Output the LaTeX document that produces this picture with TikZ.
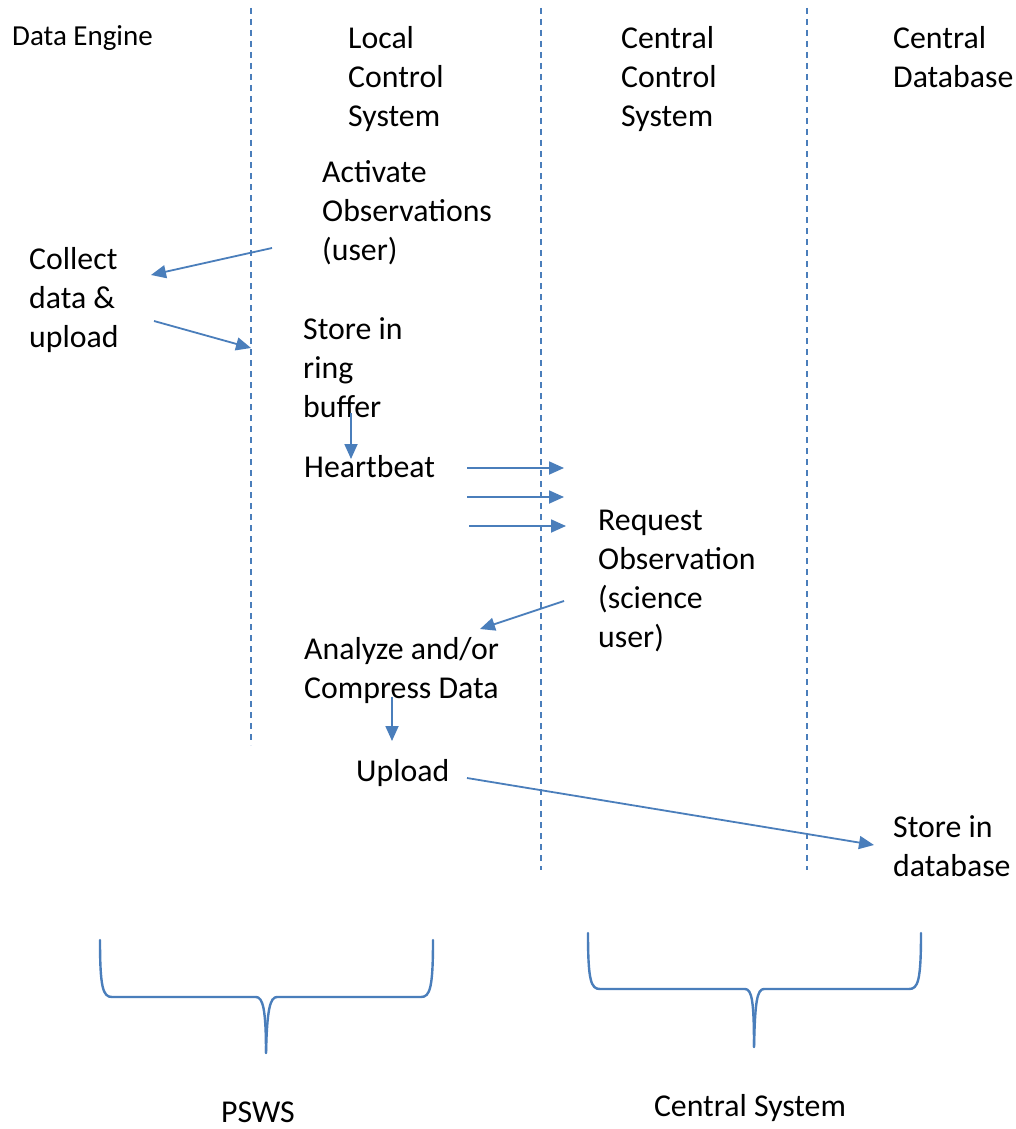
\documentclass[tikz,border=0pt]{standalone}
\usepackage{fontspec}
\setmainfont{Carlito}
\usetikzlibrary{arrows.meta}
\definecolor{lineblue}{HTML}{4A7EBB}
\tikzset{
  lbl/.style={anchor=north west, inner sep=0pt, align=left,
    font=\fontsize{31.8}{39}\selectfont, execute at begin node=\strut},
  small/.style={anchor=base west, inner sep=0pt, font=\fontsize{29}{35}\selectfont},
  caption/.style={anchor=base, inner sep=0pt, font=\fontsize{31.8}{39}\selectfont},
  conn/.style={draw=lineblue, line width=1.8pt, -{Triangle[length=15pt,width=13pt]}},
  lane/.style={draw=lineblue, line width=1.6pt, dash pattern=on 6pt off 5pt},
  brace/.style={draw=lineblue, line width=2.4pt, line cap=round}
}
\begin{document}
\begin{tikzpicture}[x=1pt,y=-1pt]
\useasboundingbox (0,0) rectangle (1016,1129);
\fill[white] (0,0) rectangle (1016,1129);

% swim lane separators
\coordinate (l1t) at (251,8);   \coordinate (l1b) at (251,745);
\coordinate (l2t) at (541,8);   \coordinate (l2b) at (541,870);
\coordinate (l3t) at (807,8);   \coordinate (l3b) at (807,870);
\draw[lane] (l1t) -- (l1b);
\draw[lane] (l2t) -- (l2b);
\draw[lane] (l3t) -- (l3b);

% headers
\node[small] (de) at (12,46) {Data Engine};
\node[lbl] (lcs) at (348,26.3) {Local\\Control\\System};
\node[lbl] (ccs) at (621,26.3) {Central\\Control\\System};
\node[lbl] (cdb) at (893,26.3) {Central\\Database};

% steps
\node[lbl] (act) at (322,160.5) {Activate\\Observations\\(user)};
\node[lbl] (col) at (29,247) {Collect\\data \&\\upload};
\node[lbl] (ring) at (303,317.5) {Store in\\ring\\buffer};
\node[lbl] (hb) at (304,449.7) {Heartbeat};
\node[lbl] (req) at (598,509.5) {Request\\Observation\\(science\\user)};
\node[lbl] (ana) at (304,637) {Analyze and/or\\Compress Data};
\node[lbl] (upl) at (356,753.7) {Upload};
\node[lbl] (sdb) at (893,815.5) {Store in\\database};

% captions
\node[caption] (psws) at (258,1122) {PSWS};
\node[caption] (cs) at (750,1116) {Central System};

% connector end points
\coordinate (a1s) at (272,248);  \coordinate (a1e) at (151,275);
\coordinate (a2s) at (154,321);  \coordinate (a2e) at (251,348);
\coordinate (a3s) at (351,413);  \coordinate (a3e) at (351,459);
\coordinate (h1s) at (467,468);  \coordinate (h1e) at (564,468);
\coordinate (h2s) at (467,497);  \coordinate (h2e) at (564,497);
\coordinate (h3s) at (469,526);  \coordinate (h3e) at (566,526);
\coordinate (a4s) at (564,601);  \coordinate (a4e) at (480,629);
\coordinate (a5s) at (392,697);  \coordinate (a5e) at (392,741);
\coordinate (a6s) at (467,778);  \coordinate (a6e) at (874,845);

\draw[conn] (a1s) -- (a1e);
\draw[conn] (a2s) -- (a2e);
\draw[conn] (a3s) -- (a3e);
\draw[conn] (h1s) -- (h1e);
\draw[conn] (h2s) -- (h2e);
\draw[conn] (h3s) -- (h3e);
\draw[conn] (a4s) -- (a4e);
\draw[conn] (a5s) -- (a5e);
\draw[conn] (a6s) -- (a6e);

% braces
\draw[brace] (100,940) .. controls (100,988) and (103,997) .. (112,997)
  -- (256,997) .. controls (263,997) and (266,1010) .. (266,1053);
\draw[brace] (433,940) .. controls (433,988) and (430,997) .. (421,997)
  -- (277,997) .. controls (270,997) and (267,1010) .. (266,1053);
\draw[brace] (588,933) .. controls (588,981) and (591,989) .. (600,989)
  -- (745,989) .. controls (752,989) and (754,1002) .. (754,1047);
\draw[brace] (921,933) .. controls (921,981) and (918,989) .. (909,989)
  -- (764,989) .. controls (757,989) and (755,1002) .. (754,1047);
\end{tikzpicture}
\end{document}
